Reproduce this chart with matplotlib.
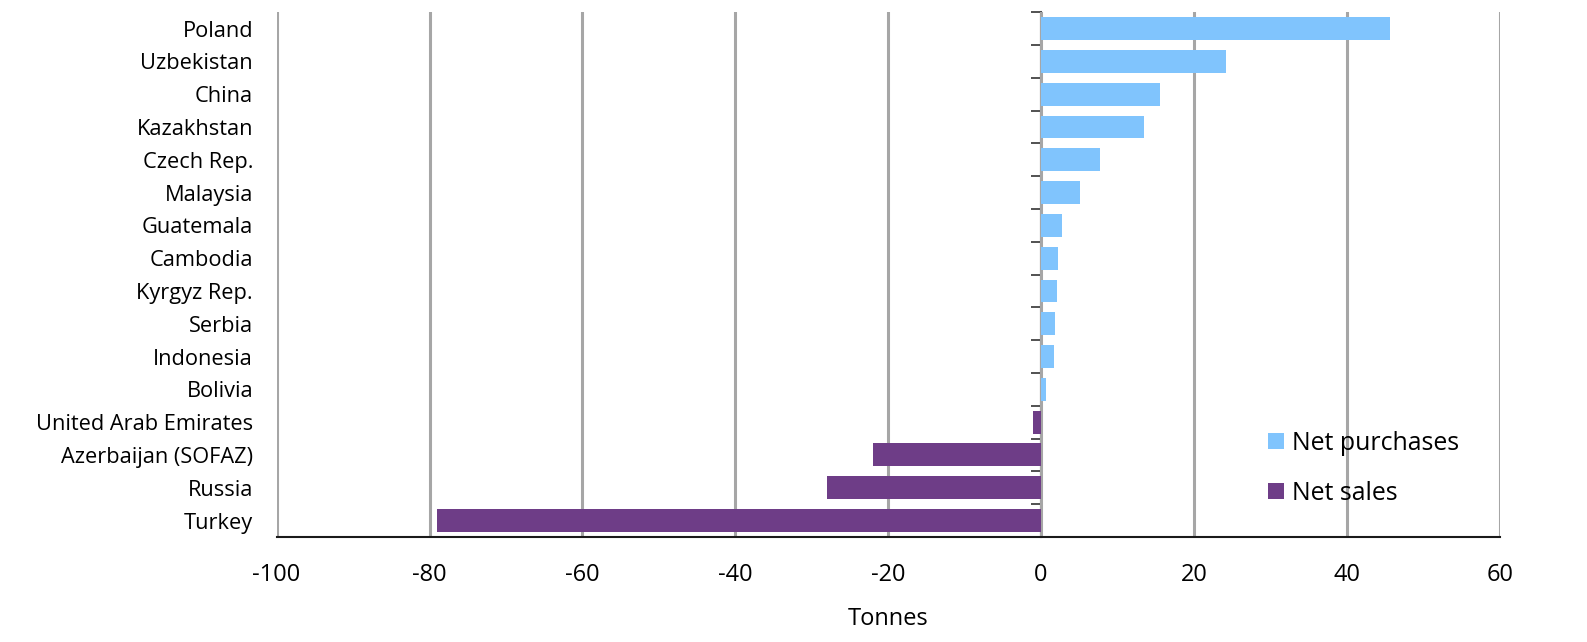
import matplotlib
matplotlib.use("Agg")
import matplotlib.pyplot as plt
from matplotlib.patches import Patch
import numpy as np

countries = ["Poland", "Uzbekistan", "China", "Kazakhstan", "Czech Rep.", "Malaysia",
             "Guatemala", "Cambodia", "Kyrgyz Rep.", "Serbia", "Indonesia", "Bolivia",
             "United Arab Emirates", "Azerbaijan (SOFAZ)", "Russia", "Turkey"]
tonnes = [45.7, 24.2, 15.5, 13.5, 7.7, 5.1, 2.7, 2.2, 2.1, 1.8, 1.7, 0.7,
          -1.1, -22.0, -28.0, -79.0]
xticks = [-100, -80, -60, -40, -20, 0, 20, 40, 60]
legend_labels = ["Net purchases", "Net sales"]

BLUE = "#80c4fd"
PURPLE = "#6e3d87"

plt.rcParams['font.family'] = ['Open Sans', 'DejaVu Sans']

fig = plt.figure(figsize=(15.87, 6.42), dpi=100)
ax = fig.add_axes([0.1743, 0.1636, 0.945 - 0.1743, 0.981 - 0.1636])

y = np.arange(len(countries))
colors = [BLUE if v >= 0 else PURPLE for v in tonnes]
ax.barh(y, tonnes, height=0.7, color=colors, zorder=3)

ax.set_xlim(-100, 60)
ax.set_ylim(len(countries) - 0.5, -0.5)
ax.set_xticks(xticks)
ax.set_xticklabels([str(t) for t in xticks], fontsize=17)
ax.tick_params(axis='x', length=0, pad=19)
ax.set_yticks(y)
ax.set_yticklabels(countries, fontsize=15.7)
ax.tick_params(axis='y', length=0, pad=17)
ax.grid(axis='x', color='#a6a6a6', lw=2.2, zorder=1)
ax.set_axisbelow(True)
for s in ['top', 'right', 'left']:
    ax.spines[s].set_visible(False)
ax.spines['bottom'].set_color('#1a1a1a')
ax.spines['bottom'].set_linewidth(1.5)
ax.spines['bottom'].set_zorder(4)

# zero axis with boundary ticks
sec = ax.secondary_yaxis(100 / 160)
sec.set_alignment('left')
sec.set_yticks(np.arange(len(countries) + 1) - 0.5)
sec.set_yticklabels([])
sec.tick_params(axis='y', length=7, width=1.2, color='#333333', direction='out')
sec.spines['left'].set_color('#4d4d4d')
sec.spines['left'].set_linewidth(1.5)

ax.set_xlabel("Tonnes", fontsize=17, labelpad=14)

handles = [Patch(facecolor=BLUE, edgecolor='none'), Patch(facecolor=PURPLE, edgecolor='none')]
fig.legend(handles, legend_labels, loc='upper left', bbox_to_anchor=(0.799, 0.329),
           frameon=False, fontsize=17.9, handlelength=0.65, handleheight=0.65,
           handletextpad=0.3, labelspacing=1.0, borderpad=0, borderaxespad=0)

fig.savefig("out.png", dpi=100, facecolor='white')
